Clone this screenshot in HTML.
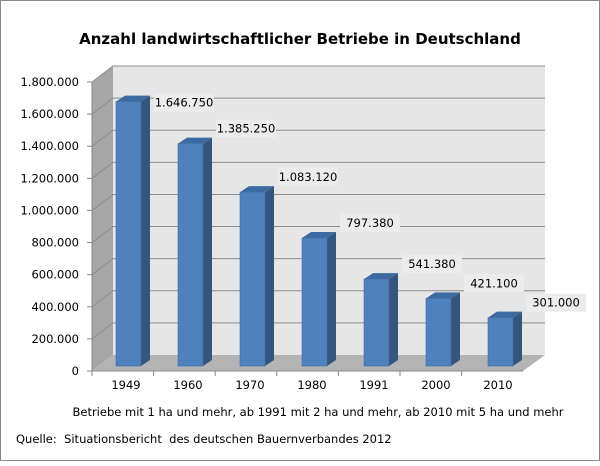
<!DOCTYPE html>
<html><head><meta charset="utf-8"><style>
body{margin:0;background:#fff}
svg text{font-family:"DejaVu Sans","Liberation Sans",sans-serif;fill:#000}
</style></head><body>
<svg width="600" height="461">
<rect x="0.5" y="0.5" width="599" height="460" fill="#fff" stroke="#888"/>
<text x="300" y="44" text-anchor="middle" font-weight="bold" font-size="15">Anzahl landwirtschaftlicher Betriebe in Deutschland</text>
<polygon points="113,66 545,66 545,355 113,355" fill="#e6e6e6"/>
<polygon points="92,82 113,66 113,355 92,371" fill="#a6a6a6"/>
<polygon points="92,371 113,355 545,355 523,371" fill="#b4b4b4"/>
<g id="grid"></g><g id="bars"></g><g id="axis"></g>
<text x="318" y="416" text-anchor="middle" font-size="11.5">Betriebe mit 1 ha und mehr, ab 1991 mit 2 ha und mehr, ab 2010 mit 5 ha und mehr</text>
<text x="16" y="443" font-size="11.5" xml:space="preserve">Quelle:  Situationsbericht  des deutschen Bauernverbandes 2012</text>
</svg>
<script>
const categories=["1949","1960","1970","1980","1991","2000","2010"];
const values=[1646750,1385250,1083120,797380,541380,421100,301000];
const valueLabels=["1.646.750","1.385.250","1.083.120","797.380","541.380","421.100","301.000"];
const yTicks=[0,200000,400000,600000,800000,1000000,1200000,1400000,1600000,1800000];
const yTickLabels=["0","200.000","400.000","600.000","800.000","1.000.000","1.200.000","1.400.000","1.600.000","1.800.000"];
const NS="http://www.w3.org/2000/svg";
const yFront=v=>371-v/1800000*289;
const yBar=v=>366-v/1800000*289;
const xBar=i=>116+i*62;
function mk(tag,attrs,parent,txt){const e=document.createElementNS(NS,tag);for(const k in attrs)e.setAttribute(k,attrs[k]);if(txt!==undefined)e.textContent=txt;parent.appendChild(e);return e;}
const grid=document.getElementById('grid'),bars=document.getElementById('bars'),axis=document.getElementById('axis');
yTicks.forEach((t,i)=>{
 const y=yFront(t);
 if(i>0){const g=mk('polyline',{points:`92,${y} 113,${y-16} 545,${y-16}`,fill:'none',stroke:'#8c8c8c','stroke-width':1},grid);
 
 }
 const tk=mk('line',{x1:87,x2:92,y1:y,y2:y,stroke:'#888'},axis);
 
 
 const lb=mk('text',{x:79,y:y+4,'text-anchor':'end','font-size':11.5},axis,yTickLabels[i]);
 
 
});
mk('line',{x1:92,x2:92,y1:82,y2:371,stroke:'#888'},axis);
mk('line',{x1:92,x2:523,y1:371,y2:371,stroke:'#888'},axis);
categories.forEach((c,i)=>{
 const tx=92+i*61.6;
 mk('line',{x1:tx,x2:tx,y1:371,y2:376,stroke:'#888'},axis);
 const x=xBar(i),w=25,top=yBar(values[i]),b=366,dx=9,dy=6;
 const g=mk('g',{},bars);
 
 
 mk('polygon',{points:`${x+w},${top} ${x+w+dx},${top-dy} ${x+w+dx},${b-dy} ${x+w},${b}`,fill:'#34567e'},g);
 mk('polygon',{points:`${x},${top} ${x+dx},${top-dy} ${x+w+dx},${top-dy} ${x+w},${top}`,fill:'#3d6aa1'},g);
 mk('rect',{x:x,y:top,width:w,height:b-top,fill:'#4f81bd',stroke:'#3f6ea6','stroke-width':0.6},g);
 const lbx=x+68,lby=(i===0?top+1:top-15);
 const bg=mk('rect',{x:lbx-30,y:lby-9,width:60,height:18,fill:'#ececec'},bars);
 
 
 const vl=mk('text',{x:lbx,y:lby+4,'text-anchor':'middle','font-size':11.5},bars,valueLabels[i]);
 
 
 const xl=mk('text',{x:x+10,y:389,'text-anchor':'middle','font-size':11.5},axis,c);
 
 
});
</script>
</body></html>
